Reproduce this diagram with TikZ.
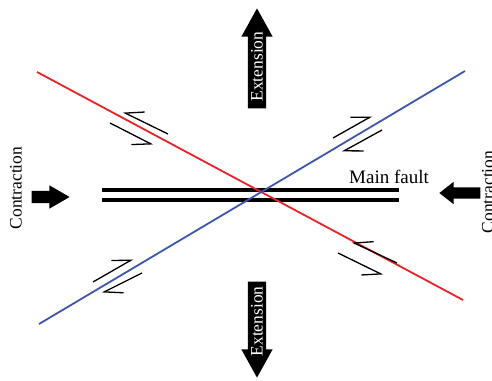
\documentclass[tikz,border=0pt]{standalone}
\usepackage{fontspec}
\setmainfont{Liberation Serif}
\usetikzlibrary{arrows.meta,shapes.arrows}
\definecolor{faultred}{RGB}{232,34,40}
\definecolor{faultblue}{RGB}{62,86,170}
\tikzset{
  slip/.style={line width=1.3pt, -{Straight Barb[#1,length=17pt,width=19pt]}},
  stressarrow/.style={single arrow, fill=black, text=white, inner xsep=1pt,
    inner ysep=3pt, single arrow head extend=6.5pt, single arrow tip angle=58,
    minimum height=100pt, rotate=90, font=\fontsize{17.5}{20}\selectfont},
  squeeze/.style={single arrow, fill=black, inner xsep=0pt, inner ysep=6pt,
    single arrow head extend=5.5pt, single arrow tip angle=60, minimum height=38pt},
  label/.style={font=\fontsize{17.5}{20}\selectfont, inner sep=0pt},
}

\begin{document}
\begin{tikzpicture}[x=1pt,y=-1pt]
    \useasboundingbox (0,0) rectangle (492,380);
    % Define points
    \coordinate (R1) at (37,72);
    \coordinate (R2) at (463,300);
    \coordinate (B1) at (39,324);
    \coordinate (B2) at (465,71);
    % Main fault
    \draw[line width=4pt] (102,190) -- (399,190);
    \draw[line width=4pt] (102,200) -- (399,200);
    \node[anchor=base west, inner sep=0pt, font=\fontsize{19}{22}\selectfont] (main) at (349,183) {Main fault};
    % Conjugate faults
    \draw[faultred, line width=1.8pt] (R1) -- (R2);
    \draw[faultblue, line width=1.8pt] (B1) -- (B2);
    % Slip arrows
    \draw[slip=right] (168,134) -- (123,112);
    \draw[slip=right] (110,123) -- (153,145);
    \draw[slip=left] (333,138) -- (372,116);
    \draw[slip=left] (382,130) -- (342,152);
    \draw[slip=left] (93,282) -- (133,259);
    \draw[slip=left] (142,273) -- (102,293);
    \draw[slip=right] (397,263) -- (352,242);
    \draw[slip=right] (338,253) -- (383,275);
    % Extension
    \node[stressarrow, anchor=tip] (extN) at (257,8) {Extension};
    \node[stressarrow, shape border rotate=180, anchor=tip, minimum height=96pt] (extS) at (257,378) {Extension};
    % Contraction
    \node[squeeze, anchor=tip] (conW) at (70,197) {};
    \node[squeeze, shape border rotate=180, anchor=tip, inner ysep=5.5pt,
      single arrow tip angle=76, minimum height=41pt] (conE) at (439,193) {};
    \node[label, rotate=90] (textW) at (16,188) {Contraction};
    \node[label, rotate=90] (textE) at (488,192) {Contraction};
\end{tikzpicture}
\end{document}
